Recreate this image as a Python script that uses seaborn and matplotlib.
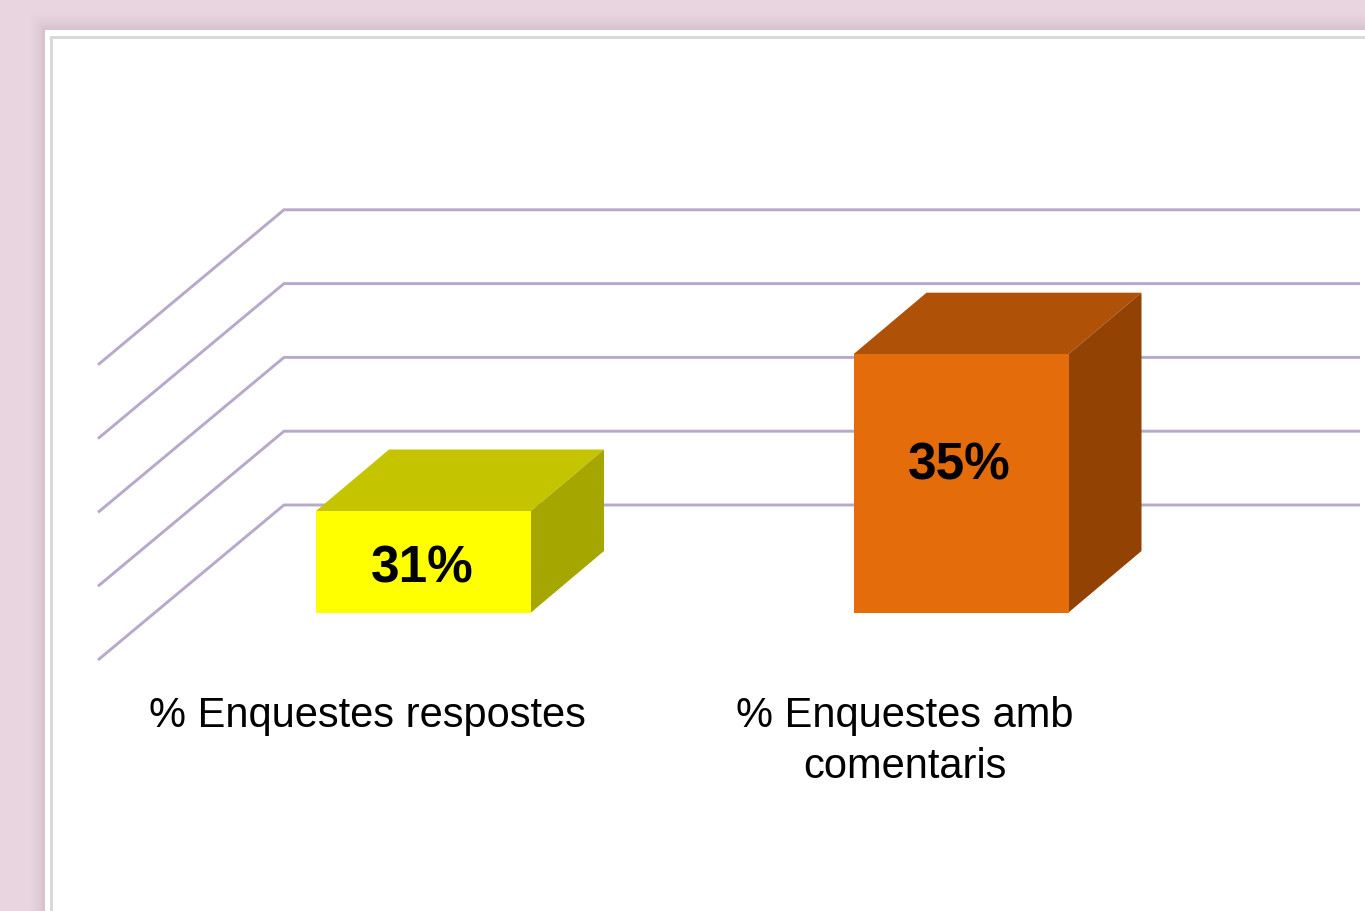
import matplotlib
matplotlib.use('Agg')
import matplotlib.pyplot as plt
from matplotlib.patches import Rectangle, Polygon
import pandas as pd
import seaborn as sns

# Dades del grafic
categories = ['% Enquestes respostes', '% Enquestes amb\ncomentaris']
values = [30.75, 35.0]
value_labels = ['31%', '35%']
y_ticks = [28, 30, 32, 34, 36]

front_colors = ['#FFFF00', '#E46C0A']
top_colors = ['#C4C400', '#AF5207']
side_colors = ['#A6A600', '#924304']

W, H = 1365, 911
PX_X = 537.5   # pixels per categoria
PX_Y = 36.9    # pixels per unitat
BASE_PX = 612.5  # y del peu de les barres
CAT0_PX = 423.5

sns.set_theme(style='white')
plt.rcParams['font.family'] = ['Liberation Sans', 'DejaVu Sans']

fig = plt.figure(figsize=(W / 100, H / 100), dpi=100, facecolor='#E8D5E0')


# Fons: ombra, marc blanc i vora grisa del panell
def panel(x, y, color):
    fig.add_artist(Rectangle((x / W, 0), 1 - x / W, 1 - y / H, transform=fig.transFigure,
                             facecolor=color, edgecolor='none', zorder=-1))


shadow = ['#E7D4DF', '#E6D3DE', '#E5D2DD', '#E4D1DC', '#E2CFDA', '#E0CDD8',
          '#DECBD6', '#DCC9D4', '#D9C6D1', '#D6C3CE', '#D4C0CB']
for i, c in enumerate(shadow):
    panel(29 + i * 1.6, 12 + i * 1.8, c)
panel(45, 30, '#FFFFFF')
panel(50, 36, '#D9D9D9')
panel(52.5, 39, '#FFFFFF')

ax = fig.add_axes([0, (H - BASE_PX) / H, 1, BASE_PX / H], facecolor='none')
ax.set_zorder(5)
df = pd.DataFrame({'categoria': categories, 'valor': values})
sns.barplot(data=df, x='categoria', y='valor', hue='categoria', palette=front_colors,
            legend=False, width=0.4, saturation=1, linewidth=0, ax=ax, zorder=3)

ax.set_xlim(-CAT0_PX / PX_X, (W - CAT0_PX) / PX_X)
ax.set_ylim(y_ticks[0], y_ticks[0] + BASE_PX / PX_Y)

# Graella en perspectiva: paret del fons i diagonal cap al davant
grid_x = [(98 - CAT0_PX) / PX_X, (284 - CAT0_PX) / PX_X, (1360 - CAT0_PX) / PX_X]
for t in y_ticks:
    grid_y = [t - 47.5 / PX_Y, t + 107.5 / PX_Y, t + 107.5 / PX_Y]
    ax.plot(grid_x, grid_y, color='#B8A9CB', lw=2.1, clip_on=False, zorder=1,
            solid_joinstyle='miter', solid_capstyle='butt')

# Cares superior i lateral de cada barra, a partir de la barra de seaborn
dx = 73 / PX_X
dy = 61.5 / PX_Y
for bar, top_c, side_c in zip(ax.patches, top_colors, side_colors):
    x0 = bar.get_x()
    x1 = x0 + bar.get_width()
    v = bar.get_height()
    base = y_ticks[0]
    ax.add_patch(Polygon([(x0, v), (x1, v), (x1 + dx, v + dy), (x0 + dx, v + dy)],
                         facecolor=top_c, edgecolor='none', zorder=2))
    ax.add_patch(Polygon([(x1, base), (x1 + dx, base + dy), (x1 + dx, v + dy), (x1, v)],
                         facecolor=side_c, edgecolor='none', zorder=2))

# Etiquetes de valor
ax.text(-1 / PX_X, values[0] - 58 / PX_Y, value_labels[0], ha='center', va='center', fontsize=37,
        fontweight='bold', color='black', zorder=5)
ax.text(1 - 2 / PX_X, values[1] - 112 / PX_Y, value_labels[1], ha='center', va='center', fontsize=37,
        fontweight='bold', color='black', zorder=5)

# Categories desplacades cap a la vora davantera del terra
ax.set_xticks([i - 56 / PX_X for i in range(len(categories))])
ax.set_xticklabels(categories, fontsize=30, color='black', linespacing=1.36)
ax.tick_params(axis='x', length=0, pad=60)
ax.set_yticks([])
ax.set_xlabel('')
ax.set_ylabel('')
sns.despine(ax=ax, left=True, bottom=True)

fig.savefig('out.png', dpi=100, facecolor=fig.get_facecolor())
